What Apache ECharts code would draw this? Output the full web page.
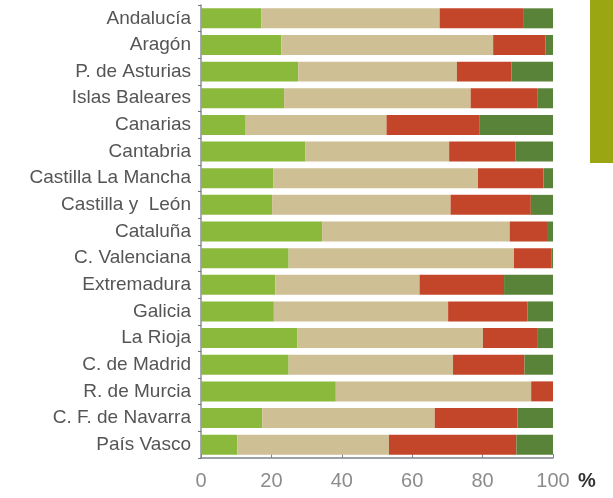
<!DOCTYPE html>
<html>
<head>
<meta charset="utf-8">
<script src="https://cdn.jsdelivr.net/npm/echarts@6/dist/echarts.min.js"></script>
<style>
html,body{margin:0;padding:0;background:#fff;}
#chart{width:613px;height:498px;}
</style>
</head>
<body>
<div id="chart"></div>
<script>
var categories = ["Andalucía","Aragón","P. de Asturias","Islas Baleares","Canarias","Cantabria","Castilla La Mancha","Castilla y  León","Cataluña","C. Valenciana","Extremadura","Galicia","La Rioja","C. de Madrid","R. de Murcia","C. F. de Navarra","País Vasco"];
var serieA = [17.1,22.8,27.6,23.6,12.7,29.7,20.5,20.2,34.4,24.9,21.1,20.7,27.4,24.9,38.3,17.4,10.3];
var serieB = [50.7,60.2,45.1,53.0,40.0,40.8,58.2,50.7,53.3,64.0,41.0,49.5,52.7,46.7,55.5,49.0,43.1];
var serieC = [23.7,14.9,15.5,18.9,26.5,18.9,18.6,22.8,10.6,10.6,24.0,22.5,15.6,20.3,6.2,23.5,36.2];
var serieD = [8.5,2.1,11.8,4.5,20.8,10.6,2.7,6.3,1.7,0.5,13.9,7.3,4.3,8.1,0,10.1,10.4];
var xTicks = [0,20,40,60,80,100];

var chart = echarts.init(document.getElementById('chart'), null, {renderer:'canvas'});
var colors = ['#8bb93c','#cebf95','#c3462a','#5a833a'];
function mk(name, data, i){
  return {name:name,type:'bar',stack:'t',data:data,barCategoryGap:'25%',
    itemStyle:{color:colors[i]},silent:true};
}
chart.setOption({
  animation:false,
  grid:{left:201,right:60,top:5,bottom:40,containLabel:false},
  xAxis:{type:'value',min:0,max:100,interval:20,
    axisLine:{show:true,lineStyle:{color:'#7e838e',width:1.5}},
    axisTick:{show:true,inside:true,length:4,lineStyle:{color:'#7e838e'}},
    splitLine:{show:false},
    axisLabel:{color:'#8c8c8c',fontSize:20,fontFamily:'Liberation Sans',margin:13,
      formatter:function(v){return xTicks.indexOf(v)>=0?String(v):'';}}
  },
  yAxis:{type:'category',data:categories,inverse:true,
    axisLine:{show:true,lineStyle:{color:'#8a8f99',width:1.5}},
    axisTick:{show:true,length:3,lineStyle:{color:'#6f7480'}},
    axisLabel:{color:'#555555',fontSize:19,fontFamily:'Liberation Sans',margin:10}
  },
  series:[mk('A',serieA,0),mk('B',serieB,1),mk('C',serieC,2),mk('D',serieD,3)],
  graphic:[
    {type:'rect',shape:{x:590,y:0,width:23,height:163},style:{fill:'#9aa713'}},
    {type:'text',left:578,top:471,style:{text:'%',font:'bold 20px "Liberation Sans"',fill:'#333'}}
  ]
});
</script>
</body>
</html>
